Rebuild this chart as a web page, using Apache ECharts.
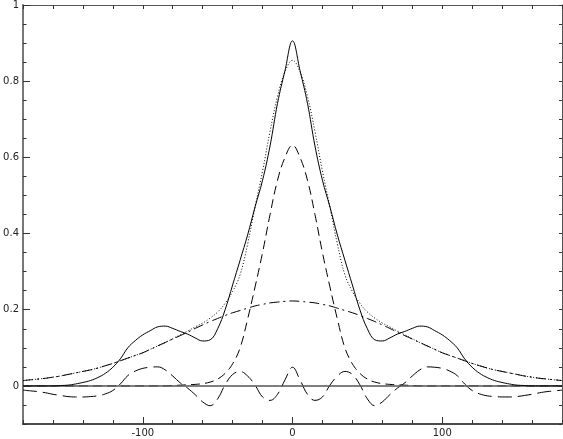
<!DOCTYPE html>
<html>
<head>
<meta charset="utf-8">
<script src="https://cdn.jsdelivr.net/npm/echarts@6/dist/echarts.min.js"></script>
<style>
  html, body { margin: 0; padding: 0; background: #fff; }
  #chart { width: 563px; height: 439px; }
</style>
</head>
<body>
<div id="chart"></div>
<script>
// x positions (step 5)
const xs = [-180,-175,-170,-165,-160,-155,-150,-145,-140,-135,-130,-125,-120,-115,-110,-105,-100,-95,-90,-85,
  -80,-75,-70,-65,-60,-55,-50,-45,-40,-35,-30,-25,-20,-15,-10,-5,
  0,
  5,10,15,20,25,30,35,40,45,50,55,60,65,70,75,80,85,90,95,100,
  105,110,115,120,125,130,135,140,145,150,155,160,165,170,175,180];

// solid: total
const total = [0,0,0,0,0,0.001,0.002,0.005,0.009,0.014,0.022,0.033,0.049,0.071,0.100,0.119,0.134,0.145,0.155,0.157,
  0.151,0.143,0.136,0.126,0.118,0.121,0.150,0.200,0.265,0.330,0.396,0.470,0.540,0.630,0.742,0.828,
  0.906,
  0.828,0.742,0.630,0.540,0.470,0.396,0.330,0.265,0.200,0.150,0.121,0.118,0.126,0.136,0.143,0.151,0.157,0.155,0.145,0.134,
  0.119,0.100,0.071,0.049,0.033,0.022,0.014,0.009,0.005,0.002,0.001,0,0,0,0,0];

// dotted: smooth sum
const smoothSum = [0.014,0.016,0.018,0.020,0.023,0.026,0.030,0.034,0.038,0.042,0.047,0.053,0.059,0.066,0.073,0.080,0.087,0.096,0.105,0.114,
  0.124,0.134,0.144,0.155,0.165,0.178,0.194,0.217,0.248,0.292,0.372,0.470,0.564,0.668,0.760,0.825,
  0.855,
  0.825,0.760,0.668,0.564,0.470,0.372,0.292,0.248,0.217,0.194,0.178,0.165,0.155,0.144,0.134,0.124,0.114,0.105,0.096,0.087,
  0.080,0.073,0.066,0.059,0.053,0.047,0.042,0.038,0.034,0.030,0.026,0.023,0.020,0.018,0.016,0.014];

// dashed: narrow peak
const narrow = [0,0,0,0,0,0,0,0,0,0,0,0,0,0,0,0,0,0,0,0,
  0.001,0.002,0.003,0.004,0.006,0.010,0.018,0.033,0.058,0.100,0.175,0.260,0.350,0.450,0.540,0.600,
  0.632,
  0.600,0.540,0.450,0.350,0.260,0.175,0.100,0.058,0.033,0.018,0.010,0.006,0.004,0.003,0.002,0.001,0,0,0,0,
  0,0,0,0,0,0,0,0,0,0,0,0,0,0,0,0];

// dash-dot: broad peak
const broad = [0.014,0.016,0.018,0.020,0.023,0.026,0.030,0.034,0.038,0.042,0.047,0.053,0.059,0.066,0.073,0.080,0.087,0.096,0.105,0.114,
  0.123,0.132,0.141,0.151,0.160,0.169,0.177,0.185,0.192,0.198,0.204,0.210,0.214,0.218,0.220,0.222,
  0.223,
  0.222,0.220,0.218,0.214,0.210,0.204,0.198,0.192,0.185,0.177,0.169,0.160,0.151,0.141,0.132,0.123,0.114,0.105,0.096,0.087,
  0.080,0.073,0.066,0.059,0.053,0.047,0.042,0.038,0.034,0.030,0.026,0.023,0.020,0.018,0.016,0.014];

// long dash: oscillation
const ripple = [-0.011,-0.013,-0.015,-0.018,-0.022,-0.025,-0.028,-0.029,-0.029,-0.028,-0.026,-0.021,-0.012,0.005,0.027,0.039,0.046,0.049,0.050,0.042,
  0.026,0.008,-0.006,-0.023,-0.042,-0.052,-0.034,0.003,0.030,0.038,0.026,0.002,-0.029,-0.038,-0.022,0.016,
  0.049,
  0.016,-0.022,-0.038,-0.029,0.002,0.026,0.038,0.030,0.003,-0.034,-0.052,-0.042,-0.023,-0.006,0.008,0.026,0.042,0.050,0.049,0.046,
  0.039,0.027,0.005,-0.012,-0.021,-0.026,-0.028,-0.029,-0.029,-0.028,-0.025,-0.022,-0.018,-0.015,-0.013,-0.011];

const xLabels = [-100, 0, 100];
const yLabels = [0, 0.2, 0.4, 0.6, 0.8, 1];

const pairs = arr => xs.map((x, i) => [x, arr[i]]);
const labelFont = { color: '#222', fontSize: 10, fontFamily: 'DejaVu Sans' };

const line = (name, arr, type, z) => ({
  name: name,
  type: 'line',
  data: pairs(arr),
  smooth: 0.4,
  showSymbol: false,
  silent: true,
  z: z,
  lineStyle: { color: '#000', width: 1, type: type }
});

const chart = echarts.init(document.getElementById('chart'));
const solid = line('total', total, 'solid', 6);
solid.markLine = {
  silent: true,
  symbol: 'none',
  label: { show: false },
  lineStyle: { color: '#555', width: 1.5, type: 'solid' },
  data: [{ yAxis: 0 }]
};

chart.setOption({
  animation: false,
  backgroundColor: '#fff',
  grid: { left: 23, right: 1, top: 5, bottom: 15, containLabel: false, outerBoundsMode: 'none' },
  xAxis: [
    {
      type: 'value', position: 'bottom', min: -180, max: 180, interval: 20,
      axisLine: { show: true, onZero: false, lineStyle: { color: '#111', width: 1.5 } },
      axisTick: { show: true, inside: true, length: 4, lineStyle: { color: '#333' } },
      axisLabel: Object.assign({ customValues: xLabels, margin: 4 }, labelFont),
      splitLine: { show: false }
    },
    {
      type: 'value', position: 'bottom', min: -180, max: 180,
      axisLine: { show: false, onZero: false },
      axisTick: { show: true, inside: true, length: 7, customValues: xLabels, lineStyle: { color: '#333' } },
      axisLabel: { show: false },
      splitLine: { show: false }
    },
    {
      type: 'value', position: 'top', min: -180, max: 180, interval: 20,
      axisLine: { show: true, onZero: false, lineStyle: { color: '#555', width: 1 } },
      axisTick: { show: true, inside: true, length: 4, lineStyle: { color: '#333' } },
      axisLabel: { show: false },
      splitLine: { show: false }
    }
  ],
  yAxis: [
    {
      type: 'value', position: 'left', min: -0.1, max: 1, interval: 0.05,
      axisLine: { show: true, onZero: false, lineStyle: { color: '#777', width: 2 } },
      axisTick: { show: true, inside: true, length: 3.5, lineStyle: { color: '#333' } },
      axisLabel: Object.assign({ customValues: yLabels, margin: 4 }, labelFont),
      splitLine: { show: false }
    },
    {
      type: 'value', position: 'left', min: -0.1, max: 1,
      axisLine: { show: false, onZero: false },
      axisTick: { show: true, inside: true, length: 7, customValues: yLabels, lineStyle: { color: '#333' } },
      axisLabel: { show: false },
      splitLine: { show: false }
    },
    {
      type: 'value', position: 'right', min: -0.1, max: 1, interval: 0.05,
      axisLine: { show: true, onZero: false, lineStyle: { color: '#555', width: 1 } },
      axisTick: { show: true, inside: true, length: 3, lineStyle: { color: '#333' } },
      axisLabel: { show: false },
      splitLine: { show: false }
    }
  ],
  series: [
    line('broad', broad, [10, 4, 2, 4], 2),
    line('narrow', narrow, [9, 5], 3),
    line('ripple', ripple, [14, 6], 4),
    line('smooth sum', smoothSum, [1, 2], 5),
    solid
  ]
});
</script>
</body>
</html>
